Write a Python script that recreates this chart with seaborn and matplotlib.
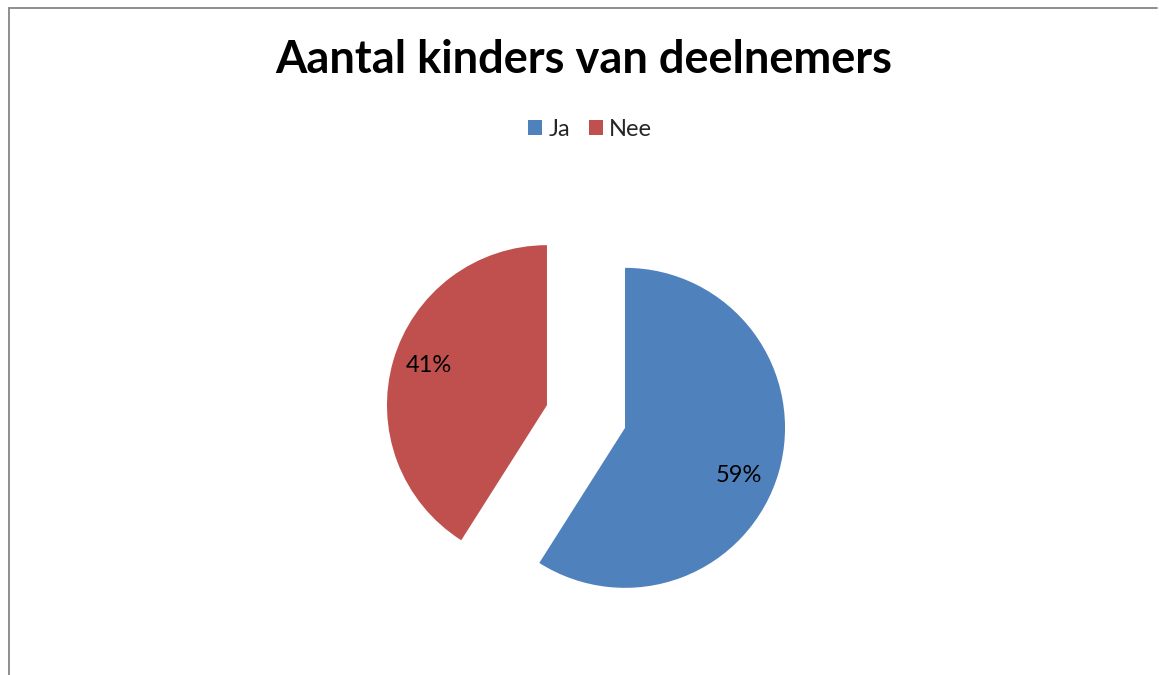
import matplotlib
matplotlib.use("Agg")
import matplotlib.pyplot as plt
import seaborn as sns
from matplotlib.patches import Patch

sns.set_theme(style="white")
plt.rcParams['font.family'] = ['Lato', 'DejaVu Sans']

categories = ["Ja", "Nee"]
values = [59, 41]
colors = ["#4F81BD", "#C0504D"]
title = "Aantal kinders van deelnemers"

W, H = 1159, 675
fig = plt.figure(figsize=(W/100, H/100), dpi=100)
fig.patch.set_facecolor("white")

# pie axes: center at (586, 416.5) px, radius 160 px
cx, cy, r = 586, 416.5, 160
side = 500
ax = fig.add_axes([(cx - side/2)/W, (H - cy - side/2)/H, side/W, side/H])
wedges, texts, autotexts = ax.pie(
    values, colors=colors, startangle=90, counterclock=False,
    explode=[0.254, 0.254], autopct=lambda p: f"{p:.0f}%",
    pctdistance=0.77, wedgeprops=dict(linewidth=0),
    textprops=dict(fontsize=17, color="black"))
# nudge labels slightly (data units of radius) to Excel's placement
x0, y0 = autotexts[0].get_position()
autotexts[0].set_position((x0 - 0.03, y0 - 0.08))
x1, y1 = autotexts[1].get_position()
autotexts[1].set_position((x1 + 0.0, y1 + 0.03))
lim = side / 2 / r
ax.set_xlim(-lim, lim)
ax.set_ylim(-lim, lim)
ax.set_aspect("equal")
ax.axis("off")

fig.text(584/W, 1 - 60/H, title, ha="center", va="center",
         fontsize=32.5, fontweight="bold", color="black")

handles = [Patch(facecolor=c, edgecolor="none", label=l) for c, l in zip(colors, categories)]
fig.legend(handles=handles, loc="center", bbox_to_anchor=(590/W, 1 - 129/H),
           ncol=2, frameon=False, fontsize=17, handlelength=0.6, handleheight=0.6,
           handletextpad=0.25, columnspacing=0.8)

# border lines (top and left)
fig.add_artist(plt.Line2D([8.5/W, 1157/W], [1 - 7.5/H, 1 - 7.5/H], color="#868686", linewidth=1.3))
fig.add_artist(plt.Line2D([8.5/W, 8.5/W], [1 - 7.5/H, 0], color="#868686", linewidth=1.3))

fig.savefig("out.png", dpi=100, facecolor="white")
